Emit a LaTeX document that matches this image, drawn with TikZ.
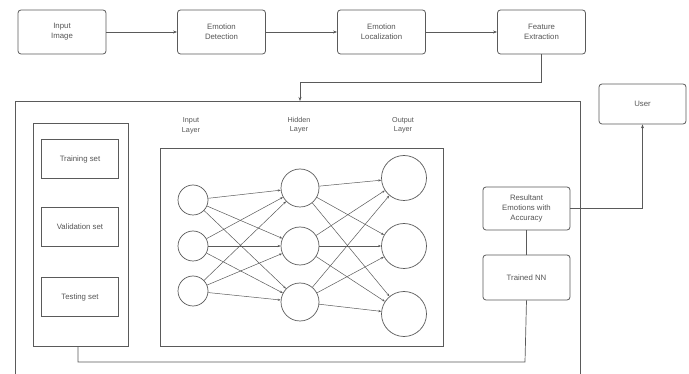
\documentclass[tikz,border=0pt]{standalone}
\usepackage{fontspec}
\setmainfont{Liberation Sans}
\usetikzlibrary{arrows.meta}
\definecolor{ln}{HTML}{5A5A5A}
\definecolor{tx}{HTML}{555555}
\tikzset{
  rbox/.style={draw=ln, line width=0.8pt, rounded corners=3pt, fill=white, align=center, text=tx, font=\fontsize{7.8}{10}\selectfont, inner sep=1pt},
  sbox/.style={draw=ln, line width=0.8pt, fill=white, align=center, text=tx, font=\fontsize{7.8}{10}\selectfont, inner sep=1pt},
  neuron/.style={draw=ln, line width=0.7pt, circle, inner sep=0pt},
  lbl/.style={align=center, text=tx, font=\fontsize{7.2}{9.5}\selectfont},
  conn/.style={draw=ln, line width=0.7pt},
  arr/.style={conn, -{Stealth[length=4pt,width=3pt]}},
  narr/.style={draw=ln, line width=0.5pt, -{Stealth[length=3pt,width=2.2pt]}}
}
\begin{document}
\begin{tikzpicture}[x=1pt,y=-1pt]
\useasboundingbox (0,0) rectangle (689,374);
% top row
\node[rbox, minimum width=88pt, minimum height=44pt] (in) at (62,32) {Input\\Image};
\node[rbox, minimum width=88pt, minimum height=44pt] (det) at (221.5,32) {Emotion\\Detection};
\node[rbox, minimum width=88pt, minimum height=44pt] (loc) at (381.5,32) {Emotion\\Localization};
\node[rbox, minimum width=88pt, minimum height=44pt] (fe) at (541.5,32) {Feature\\Extraction};
\draw[arr] (in) -- (det);
\draw[arr] (det) -- (loc);
\draw[arr] (loc) -- (fe);
% big box
\node[sbox, anchor=north west, minimum width=565pt, minimum height=285pt] (big) at (15,101) {};
\coordinate (bt) at (300,101);
\draw[arr] (fe.south) |- (300,82) -- (bt);
% left panel
\node[sbox, anchor=north west, minimum width=95pt, minimum height=223pt] (data) at (33,123) {};
\node[sbox, minimum width=77pt, minimum height=39pt] (tr) at (80,159) {Training set};
\node[sbox, minimum width=77pt, minimum height=39pt] (va) at (80,227) {Validation set};
\node[sbox, minimum width=77pt, minimum height=39pt] (te) at (80,297) {Testing set};
% NN box
\node[sbox, anchor=north west, minimum width=283pt, minimum height=198pt] (nn) at (160,148) {};
\node[lbl] (li) at (191,126) {Input\\Layer};
\node[lbl] (lh) at (299,125) {Hidden\\Layer};
\node[lbl] (lo) at (403,125) {Output\\Layer};
\node[neuron, minimum size=30pt] (i1) at (193,200) {};
\node[neuron, minimum size=30pt] (i2) at (193,246) {};
\node[neuron, minimum size=30pt] (i3) at (193,291) {};
\node[neuron, minimum size=38pt] (h1) at (300,188) {};
\node[neuron, minimum size=38pt] (h2) at (300,246) {};
\node[neuron, minimum size=38pt] (h3) at (300,302) {};
\node[neuron, minimum size=45pt] (o1) at (404,178) {};
\node[neuron, minimum size=45pt] (o2) at (404,246) {};
\node[neuron, minimum size=45pt] (o3) at (404,314) {};
\foreach \a in {1,2,3}{\foreach \b in {1,2,3}{
  \draw[narr] (i\a) -- (h\b);
  \draw[narr] (h\a) -- (o\b);
}}
% right side
\node[rbox, minimum width=87pt, minimum height=43pt] (res) at (526.5,208.5) {Resultant\\Emotions with\\Accuracy};
\node[rbox, minimum width=87pt, minimum height=45pt] (tnn) at (526.5,277.5) {Trained NN};
\node[rbox, minimum width=87pt, minimum height=40pt] (user) at (642.5,104) {User};
\draw[conn] (res) -- (tnn);
\draw[arr] (res.east) -| (user.south);
\draw[conn] (data.south -| 78,0) |- (525,362) -- (tnn.south);
\end{tikzpicture}
\end{document}
